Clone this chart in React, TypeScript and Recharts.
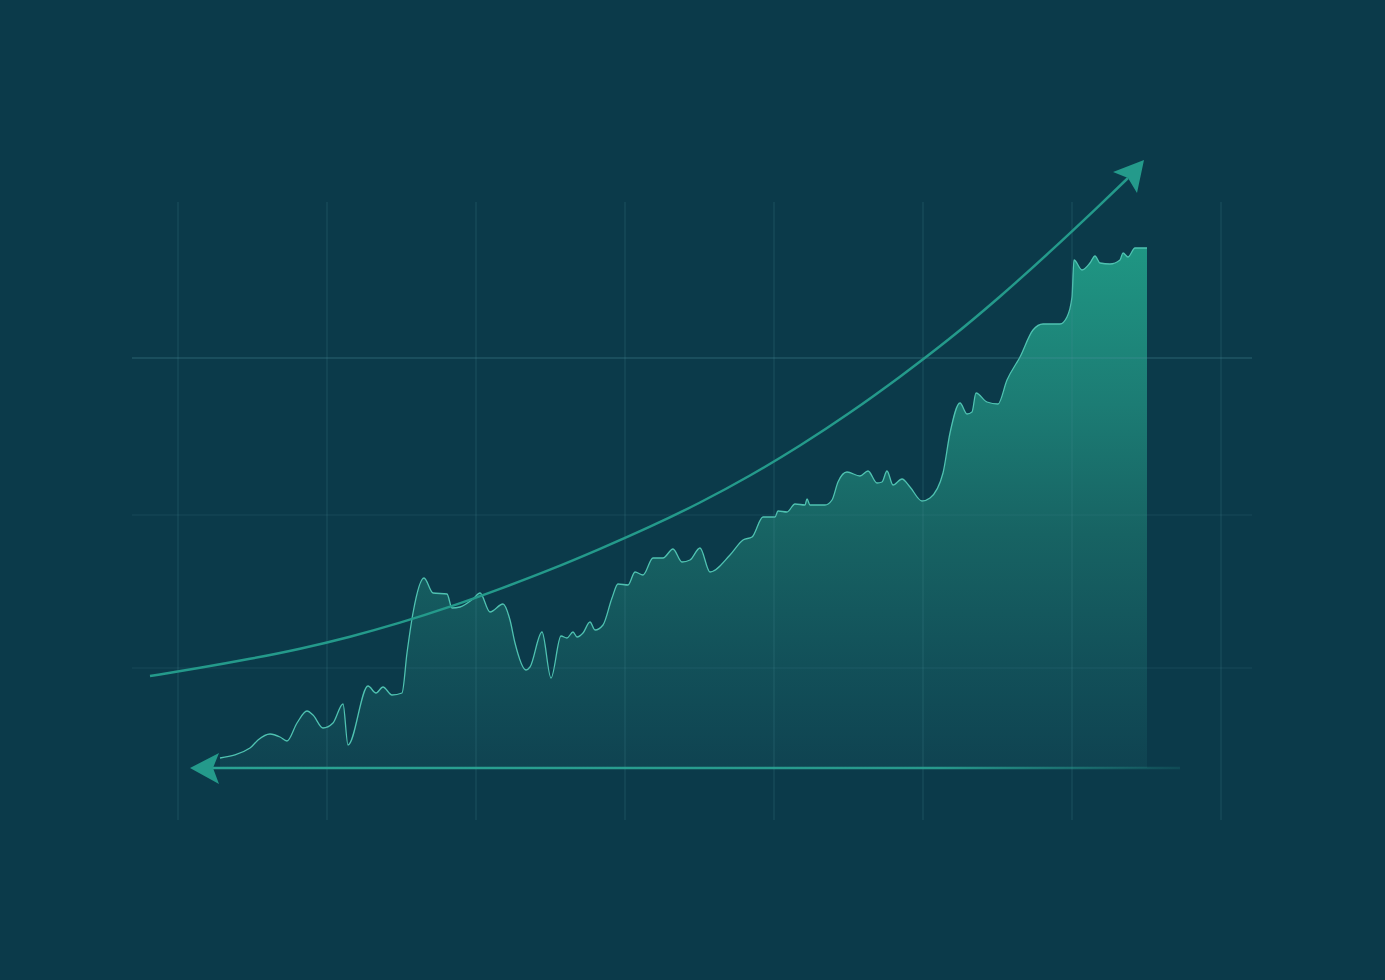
import React from "react";
import {
  Area,
  ComposedChart,
  Line,
  ReferenceLine,
  XAxis,
  YAxis,
} from "recharts";

// x = time position, v = height above the baseline
const times = [
  220, 250, 258, 270, 280, 287, 297, 307, 313, 323, 333, 343, 348, 368, 376,
  383, 392, 402, 407, 413, 424, 433, 447, 452, 460, 473, 480, 490, 503, 510,
  515, 526, 530, 542, 551, 561, 567, 573, 577, 583, 590, 595, 603, 612, 618,
  628, 635, 643, 653, 663, 673, 682, 690, 700, 710, 730, 743, 752, 763, 775,
  778, 787, 795, 805, 807, 810, 825, 832, 838, 847, 860, 868, 877, 882, 887,
  893, 902, 910, 922, 930, 943, 950, 960, 967, 972, 976, 987, 998, 1007, 1020,
  1033, 1043, 1060, 1067, 1072, 1074, 1082, 1090, 1095, 1100, 1110, 1120, 1123,
  1128, 1135, 1147,
];
const prices = [
  10, 20, 28, 34, 31, 27, 45, 57, 53, 40, 45, 64, 23, 82, 75, 81, 73, 75, 115,
  155, 190, 175, 174, 160, 161, 169, 175, 156, 164, 148, 125, 98, 101, 136, 90,
  132, 130, 136, 131, 135, 146, 138, 143, 170, 184, 183, 196, 193, 210, 210,
  219, 206, 208, 220, 196, 213, 228, 231, 251, 251, 257, 256, 264, 263, 269,
  263, 263, 268, 286, 296, 292, 297, 285, 286, 297, 283, 289, 281, 267, 270,
  295, 335, 365, 354, 356, 375, 366, 364, 388, 411, 438, 444, 444, 451, 471,
  508, 498, 505, 512, 505, 504, 508, 515, 511, 520, 520,
];

const trendTimes = [
  150, 200, 250, 300, 350, 400, 450, 500, 550, 600, 650, 700, 750, 800, 850,
  900, 950, 1000, 1050, 1100, 1128,
];
const trendValues = [
  92, 100, 109, 119, 131, 145, 161, 179, 198, 219, 241, 265, 292, 322, 355,
  391, 429, 471, 516, 563, 590,
];

const baseTimes = [213, 1180];
const baseValues = [0, 0];

const gridX = [178, 327, 476, 625, 774, 923, 1072, 1221];
const gridY = [410, 253, 100];
const gridTop = 566;
const gridBottom = -52;
const gridLeft = 132;
const gridRight = 1252;

const priceData = times.map((x, i) => ({ x, v: prices[i] }));
const trendData = trendTimes.map((x, i) => ({ x, v: trendValues[i] }));
const baseData = baseTimes.map((x, i) => ({ x, v: baseValues[i] }));

const ARROW = "#249a8b";

const TrendHead = (props: any) => {
  const { cx, cy, index } = props;
  if (index !== trendData.length - 1) return <g key={`t${index}`} />;
  const pts = [
    [16, -18],
    [-15, -6],
    [0, 0],
    [9, 15],
  ]
    .map(([dx, dy]) => `${cx + dx},${cy + dy}`)
    .join(" ");
  return <polygon key={`t${index}`} points={pts} fill={ARROW} />;
};

const BaseHead = (props: any) => {
  const { cx, cy, index } = props;
  if (index !== 0) return <g key={`b${index}`} />;
  const pts = [
    [-23, 0],
    [6, -15],
    [0, 0],
    [6, 16],
  ]
    .map(([dx, dy]) => `${cx + dx},${cy + dy}`)
    .join(" ");
  return <polygon key={`b${index}`} points={pts} fill={ARROW} />;
};

export default function App() {
  return (
    <div
      style={{
        position: "absolute",
        left: 0,
        top: 0,
        width: 1385,
        height: 980,
        background: "#0b3a4a",
      }}
    >
      <ComposedChart
        width={1385}
        height={980}
        margin={{ top: 0, right: 0, bottom: 0, left: 0 }}
      >
        <defs>
          <linearGradient id="areaFill" x1="0" y1="0" x2="0" y2="1">
            <stop offset="0%" stopColor="#1f9683" />
            <stop offset="30%" stopColor="#1c7c74" />
            <stop offset="55%" stopColor="#176363" />
            <stop offset="80%" stopColor="#125059" />
            <stop offset="100%" stopColor="#0f4351" />
          </linearGradient>
          <linearGradient
            id="baseFade"
            gradientUnits="userSpaceOnUse"
            x1="213"
            y1="0"
            x2="1180"
            y2="0"
          >
            <stop offset="0%" stopColor="#2aa393" stopOpacity={1} />
            <stop offset="75%" stopColor="#2aa393" stopOpacity={0.9} />
            <stop offset="100%" stopColor="#2aa393" stopOpacity={0.15} />
          </linearGradient>
        </defs>
        <XAxis type="number" dataKey="x" domain={[0, 1385]} hide />
        <YAxis type="number" dataKey="v" domain={[-212, 768]} hide />

        <Area
          data={priceData}
          dataKey="v"
          type="monotone"
          baseValue={0}
          stroke="#4fc2b1"
          strokeWidth={1.3}
          fill="url(#areaFill)"
          fillOpacity={1}
          dot={false}
          activeDot={false}
          isAnimationActive={false}
        />

        {gridX.map((x) => (
          <ReferenceLine
            key={`gx${x}`}
            segment={[
              { x, y: gridBottom },
              { x, y: gridTop },
            ]}
            stroke="rgba(80,150,160,0.2)"
            strokeWidth={1.3}
          />
        ))}
        {gridY.map((y, i) => (
          <ReferenceLine
            key={`gy${y}`}
            segment={[
              { x: gridLeft, y },
              { x: gridRight, y },
            ]}
            stroke={i === 0 ? "rgba(80,150,160,0.3)" : "rgba(80,150,160,0.12)"}
            strokeWidth={1.3}
          />
        ))}

        <Line
          data={trendData}
          dataKey="v"
          type="basis"
          stroke={ARROW}
          strokeWidth={2.5}
          dot={TrendHead}
          activeDot={false}
          isAnimationActive={false}
        />
        <Line
          data={baseData}
          dataKey="v"
          type="linear"
          stroke="url(#baseFade)"
          strokeWidth={2.5}
          dot={BaseHead}
          activeDot={false}
          isAnimationActive={false}
        />
      </ComposedChart>
    </div>
  );
}
